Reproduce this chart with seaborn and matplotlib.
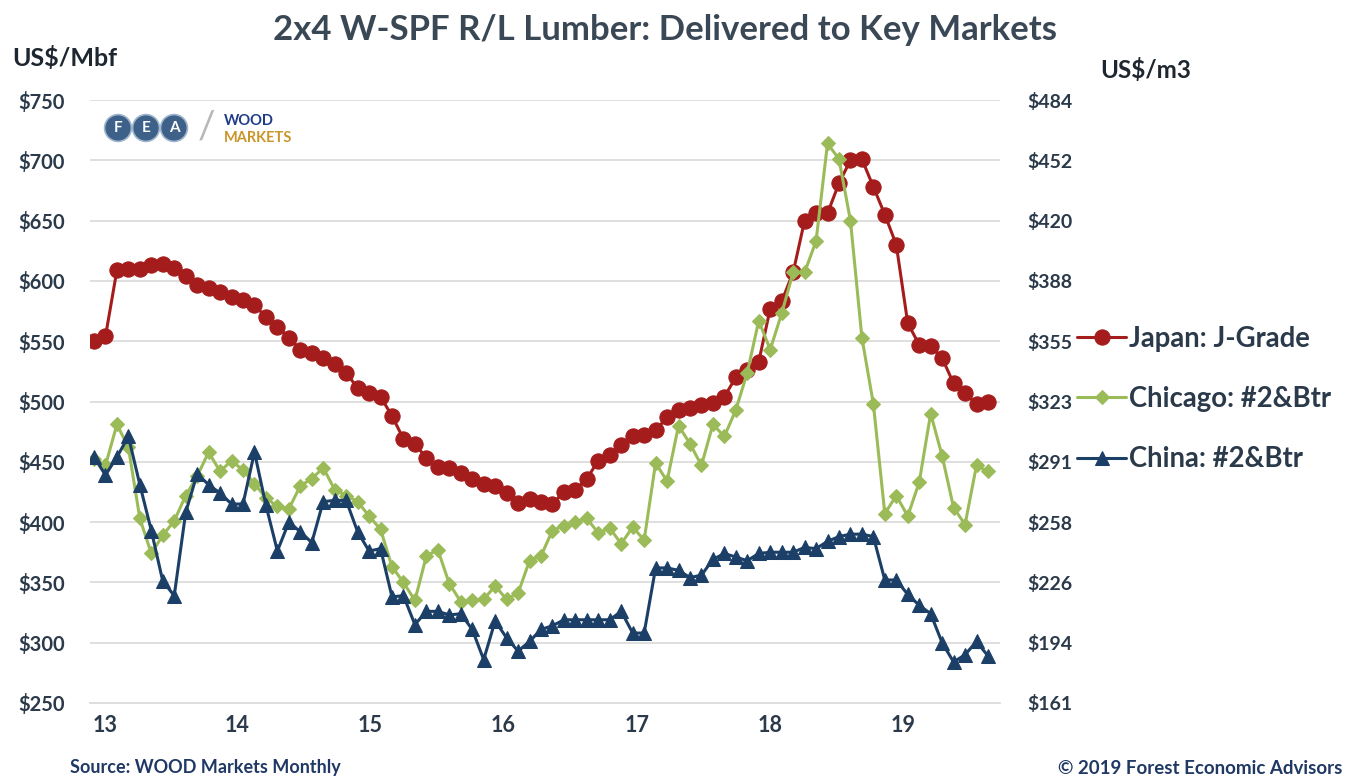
import numpy as np
import pandas as pd
import matplotlib
matplotlib.use("Agg")
import matplotlib.pyplot as plt
import seaborn as sns

# monthly prices, US$/Mbf
japan = [550, 554, 609, 610, 610, 613, 614, 611, 604, 597,
         594, 591, 587, 584, 580, 570, 562, 553, 543, 540,
         536, 531, 524, 511, 507, 504, 488, 469, 465, 453,
         446, 445, 441, 436, 432, 430, 424, 416, 419, 417,
         415, 425, 427, 436, 451, 456, 464, 471, 472, 476,
         487, 493, 495, 497, 499, 504, 520, 526, 533, 577,
         583, 607, 650, 656, 656, 681, 700, 701, 678, 655,
         630, 565, 547, 546, 536, 515, 507, 498, 500]
chicago = [452, 447, 481, 462, 403, 374, 389, 401, 422, 438,
           458, 442, 451, 443, 432, 420, 413, 411, 430, 436,
           445, 427, 422, 417, 405, 394, 363, 350, 335, 372,
           377, 349, 334, 335, 336, 347, 336, 341, 368, 372,
           393, 397, 400, 403, 391, 395, 382, 396, 385, 449,
           434, 480, 465, 447, 481, 471, 493, 524, 567, 543,
           573, 607, 607, 633, 714, 701, 650, 553, 498, 407,
           422, 405, 433, 490, 455, 412, 398, 447, 442]
china = [454, 439, 454, 471, 431, 393, 351, 339, 408, 440,
         431, 424, 415, 415, 458, 414, 376, 400, 392, 383,
         417, 418, 418, 392, 376, 378, 338, 339, 315, 326,
         326, 323, 324, 311, 286, 318, 304, 293, 301, 311,
         314, 319, 319, 319, 319, 319, 326, 308, 308, 362,
         362, 360, 354, 356, 369, 374, 371, 368, 374, 375,
         375, 375, 379, 378, 384, 388, 390, 390, 388, 352,
         352, 340, 331, 324, 300, 284, 290, 301, 289]

series_names = ["Japan: J-Grade", "Chicago: #2&Btr", "China: #2&Btr"]
year_labels = ["13", "14", "15", "16", "17", "18", "19"]
year_pos = [1.0, 12.5, 24.1, 35.7, 47.4, 59.0, 70.6]
left_ticks = [250, 300, 350, 400, 450, 500, 550, 600, 650, 700, 750]
right_labels = ["$161", "$194", "$226", "$258", "$291", "$323",
                "$355", "$388", "$420", "$452", "$484"]

text_color = "#2b3a4a"
colors = {"Japan: J-Grade": "#a51c1c",
          "Chicago: #2&Btr": "#9bbb59",
          "China: #2&Btr": "#1b3f66"}
markers = {"Japan: J-Grade": ("o", 11),
           "Chicago: #2&Btr": ("D", 7),
           "China: #2&Btr": ("^", 10)}

df = pd.DataFrame({"idx": np.arange(len(japan)),
                   "Japan: J-Grade": japan,
                   "Chicago: #2&Btr": chicago,
                   "China: #2&Btr": china})
long_df = df.melt(id_vars="idx", var_name="market", value_name="price")

sns.set_style("white")
plt.rcParams["font.family"] = ["Lato", "DejaVu Sans"]

fig = plt.figure(figsize=(13.47, 7.77), dpi=100)
ax = fig.add_axes([90 / 1347, 74 / 777, 910 / 1347, 603 / 777])

for name in series_names:
    mk, ms = markers[name]
    sns.lineplot(data=long_df[long_df["market"] == name], x="idx", y="price",
                 color=colors[name], marker=mk, markersize=ms,
                 markeredgecolor=colors[name], linewidth=2.2,
                 label=name, ax=ax)
if ax.get_legend() is not None:
    ax.get_legend().remove()

ax.set_ylim(250, 750)
ax.set_xlim(-0.35, 79.05)
ax.set_yticks(left_ticks, [f"${v}" for v in left_ticks])
ax.set_xticks(year_pos, year_labels)
ax.set_xticks(np.arange(len(japan)), minor=True)
ax.grid(axis="y", color="#dcdcdc", linewidth=1.3)
ax.set_axisbelow(True)
ax.set_xlabel("")
ax.set_ylabel("")
for side in ["top", "left", "right"]:
    ax.spines[side].set_visible(False)
ax.spines["bottom"].set_color("#dcdcdc")
ax.spines["bottom"].set_linewidth(1.3)
ax.tick_params(axis="y", length=0, pad=18, labelsize=14.5, labelcolor=text_color)
ax.tick_params(axis="x", which="major", length=0, pad=9, labelsize=15.5,
               labelcolor=text_color)
ax.tick_params(axis="x", which="minor", length=8, direction="inout",
               color="#dcdcdc", width=1.2)
for lbl in ax.get_xticklabels() + ax.get_yticklabels():
    lbl.set_fontweight("bold")

ax2 = ax.twinx()
ax2.set_ylim(250, 750)
ax2.set_yticks(left_ticks, right_labels)
ax2.tick_params(axis="y", length=0, pad=20, labelsize=14, labelcolor=text_color)
for lbl in ax2.get_yticklabels():
    lbl.set_fontweight("bold")
for side in ax2.spines:
    ax2.spines[side].set_visible(False)

handles, labels = ax.get_legend_handles_labels()
fig.legend(handles, labels, loc="center left",
           bbox_to_anchor=(1052 / 1347, 1 - 399 / 777), frameon=False,
           prop={"size": 19.8, "weight": "bold"}, labelcolor=text_color,
           labelspacing=1.25, handlelength=1.8, handletextpad=0.1)

fig.text(0.494, 1 - 30 / 777, "2x4 W-SPF R/L Lumber: Delivered to Key Markets",
         ha="center", va="center", fontsize=25, fontweight="bold", color="#3a4856")
fig.text(12 / 1347, 1 - 58 / 777, "US$/Mbf", ha="left", va="center",
         fontsize=18, fontweight="bold", color="#1e2630")
fig.text(1100 / 1347, 1 - 70 / 777, "US$/m3", ha="left", va="center",
         fontsize=17.5, fontweight="bold", color="#1e2630")
fig.text(70 / 1347, 1 - 768 / 777, "Source: WOOD Markets Monthly", ha="left",
         va="center", fontsize=13, fontweight="bold", color="#1f3864")
fig.text(1342 / 1347, 1 - 768 / 777, "\u00a9 2019 Forest Economic Advisors",
         ha="right", va="center", fontsize=13.5, fontweight="bold", color="#1f3864")

# FEA / WOOD MARKETS logo
for letter, px in zip("FEA", [118, 146, 174]):
    fig.text(px / 1347, 1 - 128 / 777, letter, ha="center", va="center",
             fontsize=11, fontweight="bold", color="white",
             bbox=dict(boxstyle="circle,pad=0.42", fc="#3d6189", ec="#9fb6cc", lw=1.2))
fig.text(207 / 1347, 1 - 128 / 777, "/", ha="center", va="center",
         fontsize=28, color="#b8b8b8")
fig.text(224 / 1347, 1 - 121 / 777, "WOOD", ha="left", va="center",
         fontsize=10.5, fontweight="bold", color="#1f3c88")
fig.text(224 / 1347, 1 - 138 / 777, "MARKETS", ha="left", va="center",
         fontsize=10.5, fontweight="bold", color="#c8962a")

fig.savefig("out.png", dpi=100)
plt.close(fig)
